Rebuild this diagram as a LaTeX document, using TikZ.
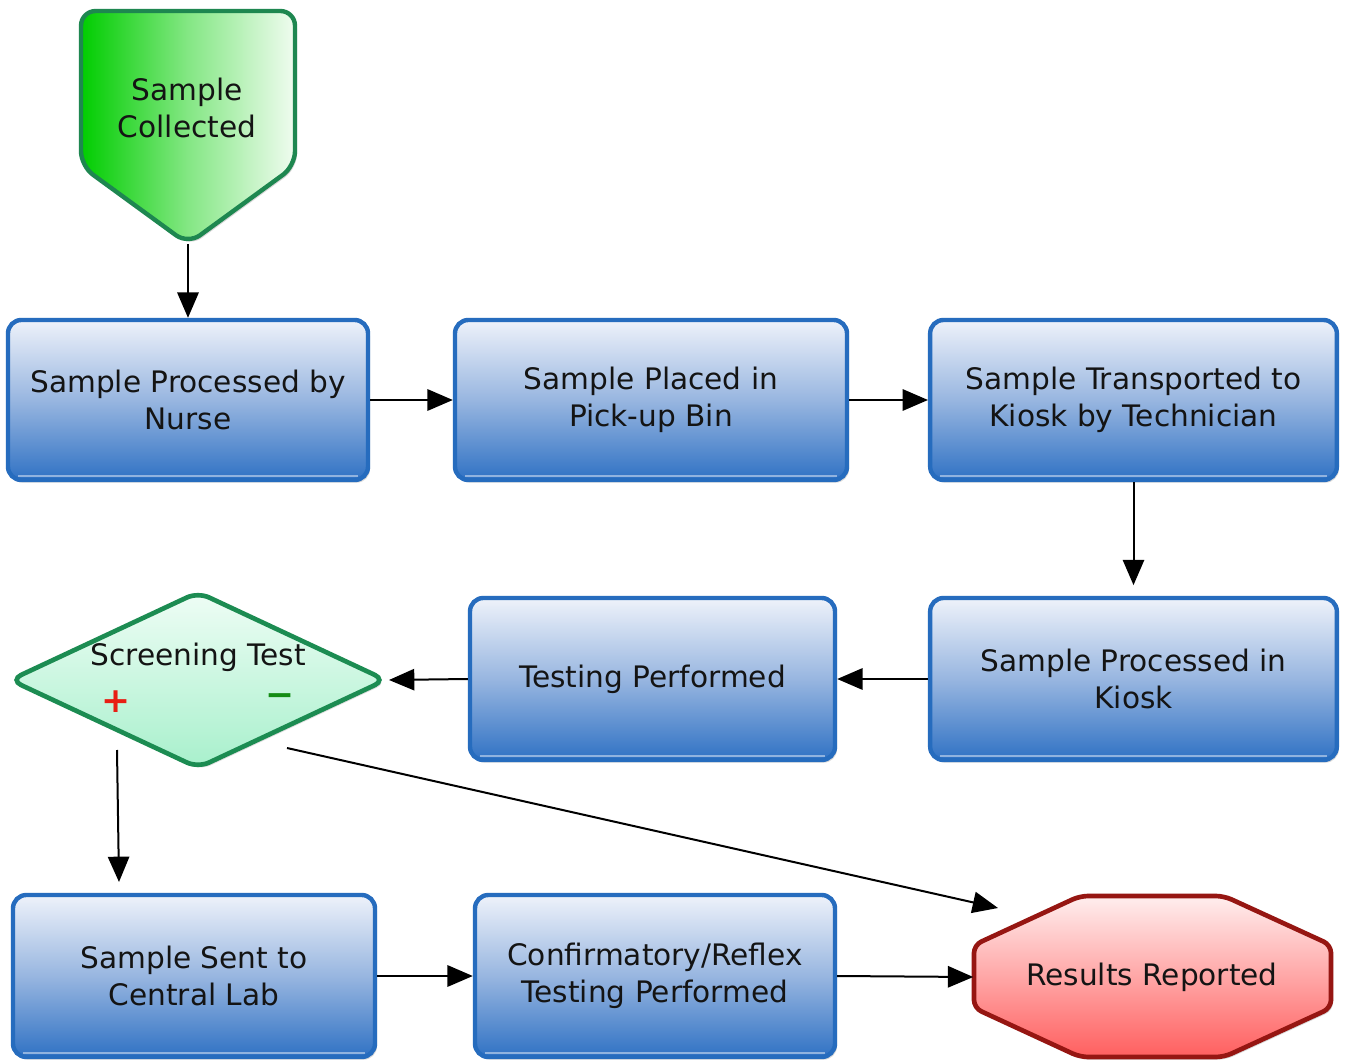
\documentclass[tikz,border=0pt]{standalone}
\usepackage{fontspec}
\setmainfont{DejaVu Sans}
\usetikzlibrary{shapes.geometric,arrows.meta,shadows,calc}
\definecolor{boxborder}{RGB}{38,108,190}
\definecolor{boxtop}{RGB}{238,242,250}
\definecolor{boxmid}{RGB}{152,182,224}
\definecolor{boxbot}{RGB}{48,114,196}
\definecolor{scleft}{RGB}{0,205,0}
\definecolor{scright}{RGB}{240,252,240}
\definecolor{scborder}{RGB}{30,135,80}
\definecolor{dtop}{RGB}{238,253,245}
\definecolor{dbot}{RGB}{168,240,204}
\definecolor{dborder}{RGB}{28,140,82}
\definecolor{otop}{RGB}{255,238,238}
\definecolor{obot}{RGB}{255,95,95}
\definecolor{oborder}{RGB}{150,22,18}
\definecolor{plusred}{RGB}{232,30,20}
\definecolor{minusgreen}{RGB}{20,140,20}
\tikzset{
  lbl/.style={align=center, font=\fontsize{22.2}{27.5}\selectfont, text=black!92},
  proc/.style={lbl, rectangle, rounded corners=10pt, line width=3.3pt, draw=boxborder,
    top color=boxtop, bottom color=boxbot, middle color=boxmid,
    drop shadow={opacity=0.3, shadow xshift=1.5pt, shadow yshift=-2pt},
    minimum height=120pt, inner sep=0pt},
  arr/.style={line width=1.5pt, -{Triangle[length=19pt,width=16pt]}},
  sign/.style={font=\fontsize{26}{30}\selectfont\bfseries},
}
\begin{document}
\begin{tikzpicture}[x=0.75pt,y=-0.75pt]
\fill[white] (0,0) rectangle (1346,1062);
\useasboundingbox (0,0) rectangle (1346,1062);

% start pentagon
\draw[line width=3.3pt, draw=scborder, left color=scleft, right color=scright, middle color=scleft!45!scright,
  rounded corners=11pt, drop shadow={opacity=0.3, shadow xshift=1.5pt, shadow yshift=-2pt}]
  (81,11) -- (295,11) -- (295,166) -- (188,244) -- (81,166) -- cycle;
\node[lbl] (sc) at (187,108) {Sample\\Collected};
\coordinate (scbot) at (188,244);

% boxes
\node[proc, minimum width=270pt] (b1) at (188,400) {Sample Processed by\\Nurse};
\node[proc, minimum width=294pt] (b2) at (651,400) {Sample Placed in\\Pick-up Bin};
\node[proc, minimum width=305pt] (b3) at (1133.5,400) {Sample Transported to\\Kiosk by Technician};
\node[proc, minimum width=305pt, minimum height=121.5pt] (b4) at (1133.5,679) {Sample Processed in\\Kiosk};
\node[proc, minimum width=273.75pt, minimum height=121.5pt] (b5) at (652.5,679) {Testing Performed};
\node[proc, minimum width=271.5pt, minimum height=121.5pt] (b6) at (194,976) {Sample Sent to\\Central Lab};
\node[proc, minimum width=270pt, minimum height=121.5pt] (b7) at (655,976) {Confirmatory/Reflex\\Testing Performed};

\foreach \n in {b1,b2,b3,b4,b5,b6,b7}
  \draw[white, opacity=0.45, line width=1.5pt]
    ([xshift=9pt,yshift=5pt]\n.south west) -- ([xshift=-9pt,yshift=5pt]\n.south east);

% diamond
\node[diamond, minimum width=283pt, minimum height=133pt, inner sep=0pt, aspect=2.12,
  line width=3.5pt, draw=dborder, top color=dtop, bottom color=dbot, rounded corners=9pt,
  drop shadow={opacity=0.25, shadow xshift=1.5pt, shadow yshift=-2pt}] (st) at (198,680) {};
\node[lbl] (sttext) at (198,657) {Screening Test};
\node[sign, text=plusred] (plus) at (116,702) {+};
\node[sign, text=minusgreen] (minus) at (280,700) {−};
\coordinate (pstart) at (117,750);
\coordinate (pend) at (119,882);
\coordinate (mstart) at (287,748);
\coordinate (mend) at (998,908);

% octagon
\draw[line width=3.5pt, draw=oborder, top color=otop, bottom color=obot,
  rounded corners=6pt, drop shadow={opacity=0.3, shadow xshift=1.5pt, shadow yshift=-2pt}]
  (1080,896) -- (1224,896) -- (1331,945) -- (1331,1008) -- (1224,1057) -- (1080,1057) -- (974,1008) -- (974,945) -- cycle;
\node[lbl, minimum width=267.75pt] (rr) at (1152,977) {Results Reported};

% connectors
\draw[arr] (scbot) -- (b1.north);
\draw[arr] (b1.east) -- (b2.west);
\draw[arr] (b2.east) -- (b3.west);
\draw[arr] (b3.south) -- ([yshift=8pt]b4.north);
\draw[arr] (b4.west) -- (b5.east);
\draw[arr] (b5.west) -- (st.east);
\draw[arr] (pstart) -- (pend);
\draw[arr] (mstart) -- (mend);
\draw[arr] (b6.east) -- (b7.west);
\draw[arr] (b7.east) -- (rr.west);
\end{tikzpicture}
\end{document}
